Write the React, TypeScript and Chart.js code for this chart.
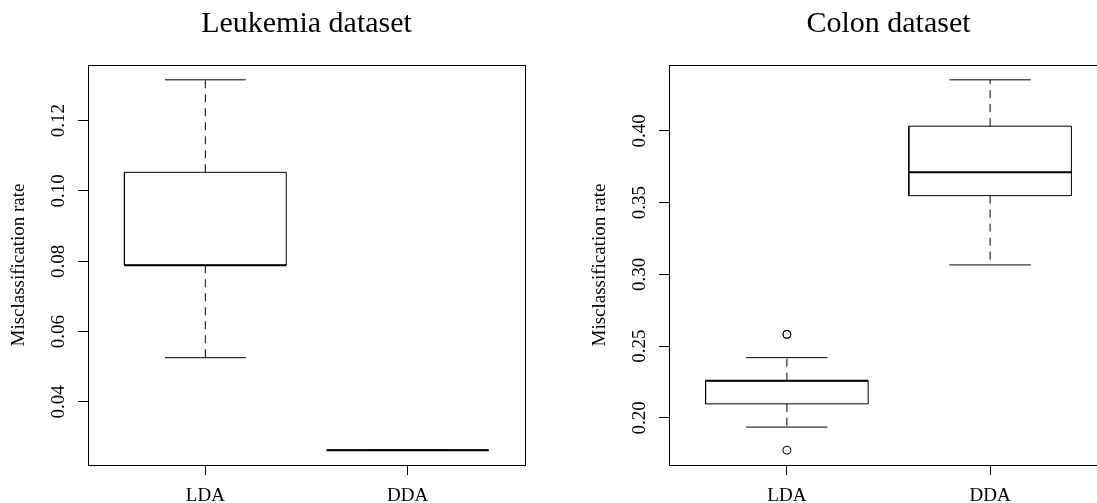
import React, { useEffect, useRef } from 'react';
import { Chart, registerables } from 'chart.js';

Chart.register(...registerables);

// ---- data ----
const CATEGORIES = ['LDA', 'DDA'];

const LEUKEMIA_TITLE = 'Leukemia dataset';
const LEUKEMIA_TICKS = [0.04, 0.06, 0.08, 0.1, 0.12];
const leukemiaMin = [0.0526, 0.0263];
const leukemiaQ1 = [0.0789, 0.0263];
const leukemiaMedian = [0.0789, 0.0263];
const leukemiaQ3 = [0.1053, 0.0263];
const leukemiaMax = [0.1316, 0.0263];
const leukemiaOutliers: number[][] = [[], []];

const COLON_TITLE = 'Colon dataset';
const COLON_TICKS = [0.2, 0.25, 0.3, 0.35, 0.4];
const colonMin = [0.1935, 0.3065];
const colonQ1 = [0.2097, 0.3548];
const colonMedian = [0.2258, 0.371];
const colonQ3 = [0.2258, 0.4032];
const colonMax = [0.2419, 0.4355];
const colonOutliers: number[][] = [[0.2581, 0.2581, 0.1774], []];

const Y_TITLE = 'Misclassification rate';

// ---- style ----
const FONT = "'Liberation Serif', 'Times New Roman', serif";
const BOX_HALF = 0.4;
const CAP_HALF = 0.2;
const DASH = [8, 6];

function seg(points: { x: number; y: number }[], width: number, dash: number[] = []) {
  return {
    type: 'scatter' as const,
    data: points,
    showLine: true,
    borderColor: '#000',
    borderWidth: width,
    borderDash: dash,
    pointRadius: 0,
    fill: false,
    tension: 0,
    xAxisID: 'x',
    yAxisID: 'y',
  };
}

function buildDatasets(mins: number[], q1s: number[], meds: number[], q3s: number[], maxs: number[], outs: number[][]) {
  const ds: any[] = [];
  CATEGORIES.forEach((_, i) => {
    const x = i + 1;
    ds.push(seg([{ x, y: q3s[i] }, { x, y: maxs[i] }], 1, DASH));
    ds.push(seg([{ x, y: q1s[i] }, { x, y: mins[i] }], 1, DASH));
    ds.push(seg([{ x: x - CAP_HALF, y: maxs[i] }, { x: x + CAP_HALF, y: maxs[i] }], 1));
    ds.push(seg([{ x: x - CAP_HALF, y: mins[i] }, { x: x + CAP_HALF, y: mins[i] }], 1));
    ds.push(seg([
      { x: x - BOX_HALF, y: q1s[i] }, { x: x + BOX_HALF, y: q1s[i] },
      { x: x + BOX_HALF, y: q3s[i] }, { x: x - BOX_HALF, y: q3s[i] },
      { x: x - BOX_HALF, y: q1s[i] },
    ], 1));
    ds.push(seg([{ x: x - BOX_HALF, y: meds[i] }, { x: x + BOX_HALF, y: meds[i] }], 2));
    if (outs[i].length) {
      ds.push({
        type: 'scatter',
        data: outs[i].map((y) => ({ x, y })),
        showLine: false,
        pointStyle: 'circle',
        pointRadius: 4,
        pointBorderColor: '#000',
        pointBackgroundColor: 'rgba(0,0,0,0)',
        pointBorderWidth: 1,
        xAxisID: 'x',
        yAxisID: 'y',
      });
    }
  });
  return ds;
}

function makeConfig(title: string, ticks: number[], mins: number[], q1s: number[], meds: number[], q3s: number[], maxs: number[], outs: number[][], padRight: number) {
  const all = [...mins, ...maxs, ...outs.flat()];
  const lo = Math.min(...all);
  const hi = Math.max(...all);
  const ext = (hi - lo) * 0.04;
  const xMin = 0.5 - CATEGORIES.length * 0.04;
  const xMax = CATEGORIES.length + 0.5 + CATEGORIES.length * 0.04;
  return {
    type: 'scatter' as const,
    data: { datasets: buildDatasets(mins, q1s, meds, q3s, maxs, outs) },
    options: {
      responsive: false,
      animation: false,
      events: [],
      layout: { padding: { left: 0, top: 0, bottom: 0, right: padRight } },
      plugins: { legend: { display: false }, tooltip: { enabled: false }, title: { display: false } },
      scales: {
        x: {
          type: 'linear',
          position: 'bottom',
          min: xMin,
          max: xMax,
          afterBuildTicks: (s: any) => { s.ticks = CATEGORIES.map((_, i) => ({ value: i + 1 })); },
          ticks: {
            autoSkip: false,
            maxRotation: 0,
            minRotation: 0,
            padding: 10,
            color: '#000',
            font: { family: FONT, size: 19 },
            callback: (_v: any, i: number) => CATEGORIES[i],
          },
          grid: { drawOnChartArea: false, drawTicks: true, tickLength: 10, color: '#000', lineWidth: 1 },
          border: { display: true, color: '#000', width: 1 },
          afterFit: (s: any) => { s.height = 38; },
        },
        x2: {
          type: 'linear',
          position: 'top',
          min: xMin,
          max: xMax,
          ticks: { display: false },
          grid: { drawOnChartArea: false, drawTicks: false },
          border: { display: true, color: '#000', width: 1 },
          title: { display: true, text: title, color: '#000', font: { family: FONT, size: 30 }, padding: { top: 6, bottom: 0 } },
          afterFit: (s: any) => { s.height = 65; },
        },
        y: {
          type: 'linear',
          position: 'left',
          min: lo - ext,
          max: hi + ext,
          afterBuildTicks: (s: any) => { s.ticks = ticks.map((v) => ({ value: v })); },
          ticks: {
            autoSkip: false,
            minRotation: 90,
            maxRotation: 90,
            crossAlign: 'center',
            padding: 2,
            color: '#000',
            font: { family: FONT, size: 19 },
            callback: (v: any) => Number(v).toFixed(2),
          },
          grid: { drawOnChartArea: false, drawTicks: true, tickLength: 10, color: '#000', lineWidth: 1 },
          border: { display: true, color: '#000', width: 1 },
          title: { display: true, text: Y_TITLE, color: '#000', font: { family: FONT, size: 19 }, padding: { top: 8, bottom: 0 } },
          afterFit: (s: any) => { s.width = 88; },
        },
        y2: {
          type: 'linear',
          position: 'right',
          min: lo - ext,
          max: hi + ext,
          ticks: { display: false },
          grid: { drawOnChartArea: false, drawTicks: false },
          border: { display: true, color: '#000', width: 1 },
          afterFit: (s: any) => { s.width = 0; },
        },
      },
    },
  };
}

export default function App() {
  const leftRef = useRef<HTMLCanvasElement>(null);
  const rightRef = useRef<HTMLCanvasElement>(null);

  useEffect(() => {
    const c1 = new Chart(leftRef.current!, makeConfig(LEUKEMIA_TITLE, LEUKEMIA_TICKS, leukemiaMin, leukemiaQ1, leukemiaMedian, leukemiaQ3, leukemiaMax, leukemiaOutliers, 23) as any);
    const c2 = new Chart(rightRef.current!, makeConfig(COLON_TITLE, COLON_TICKS, colonMin, colonQ1, colonMedian, colonQ3, colonMax, colonOutliers, 21) as any);
    return () => { c1.destroy(); c2.destroy(); };
  }, []);

  return (
    <div style={{ position: 'absolute', left: 0, top: 0, width: 1097, height: 503, overflow: 'hidden', background: '#fff' }}>
      <canvas ref={leftRef} width={548} height={503} style={{ position: 'absolute', left: 0, top: 0 }} />
      <canvas ref={rightRef} width={548} height={503} style={{ position: 'absolute', left: 581, top: 0 }} />
    </div>
  );
}
